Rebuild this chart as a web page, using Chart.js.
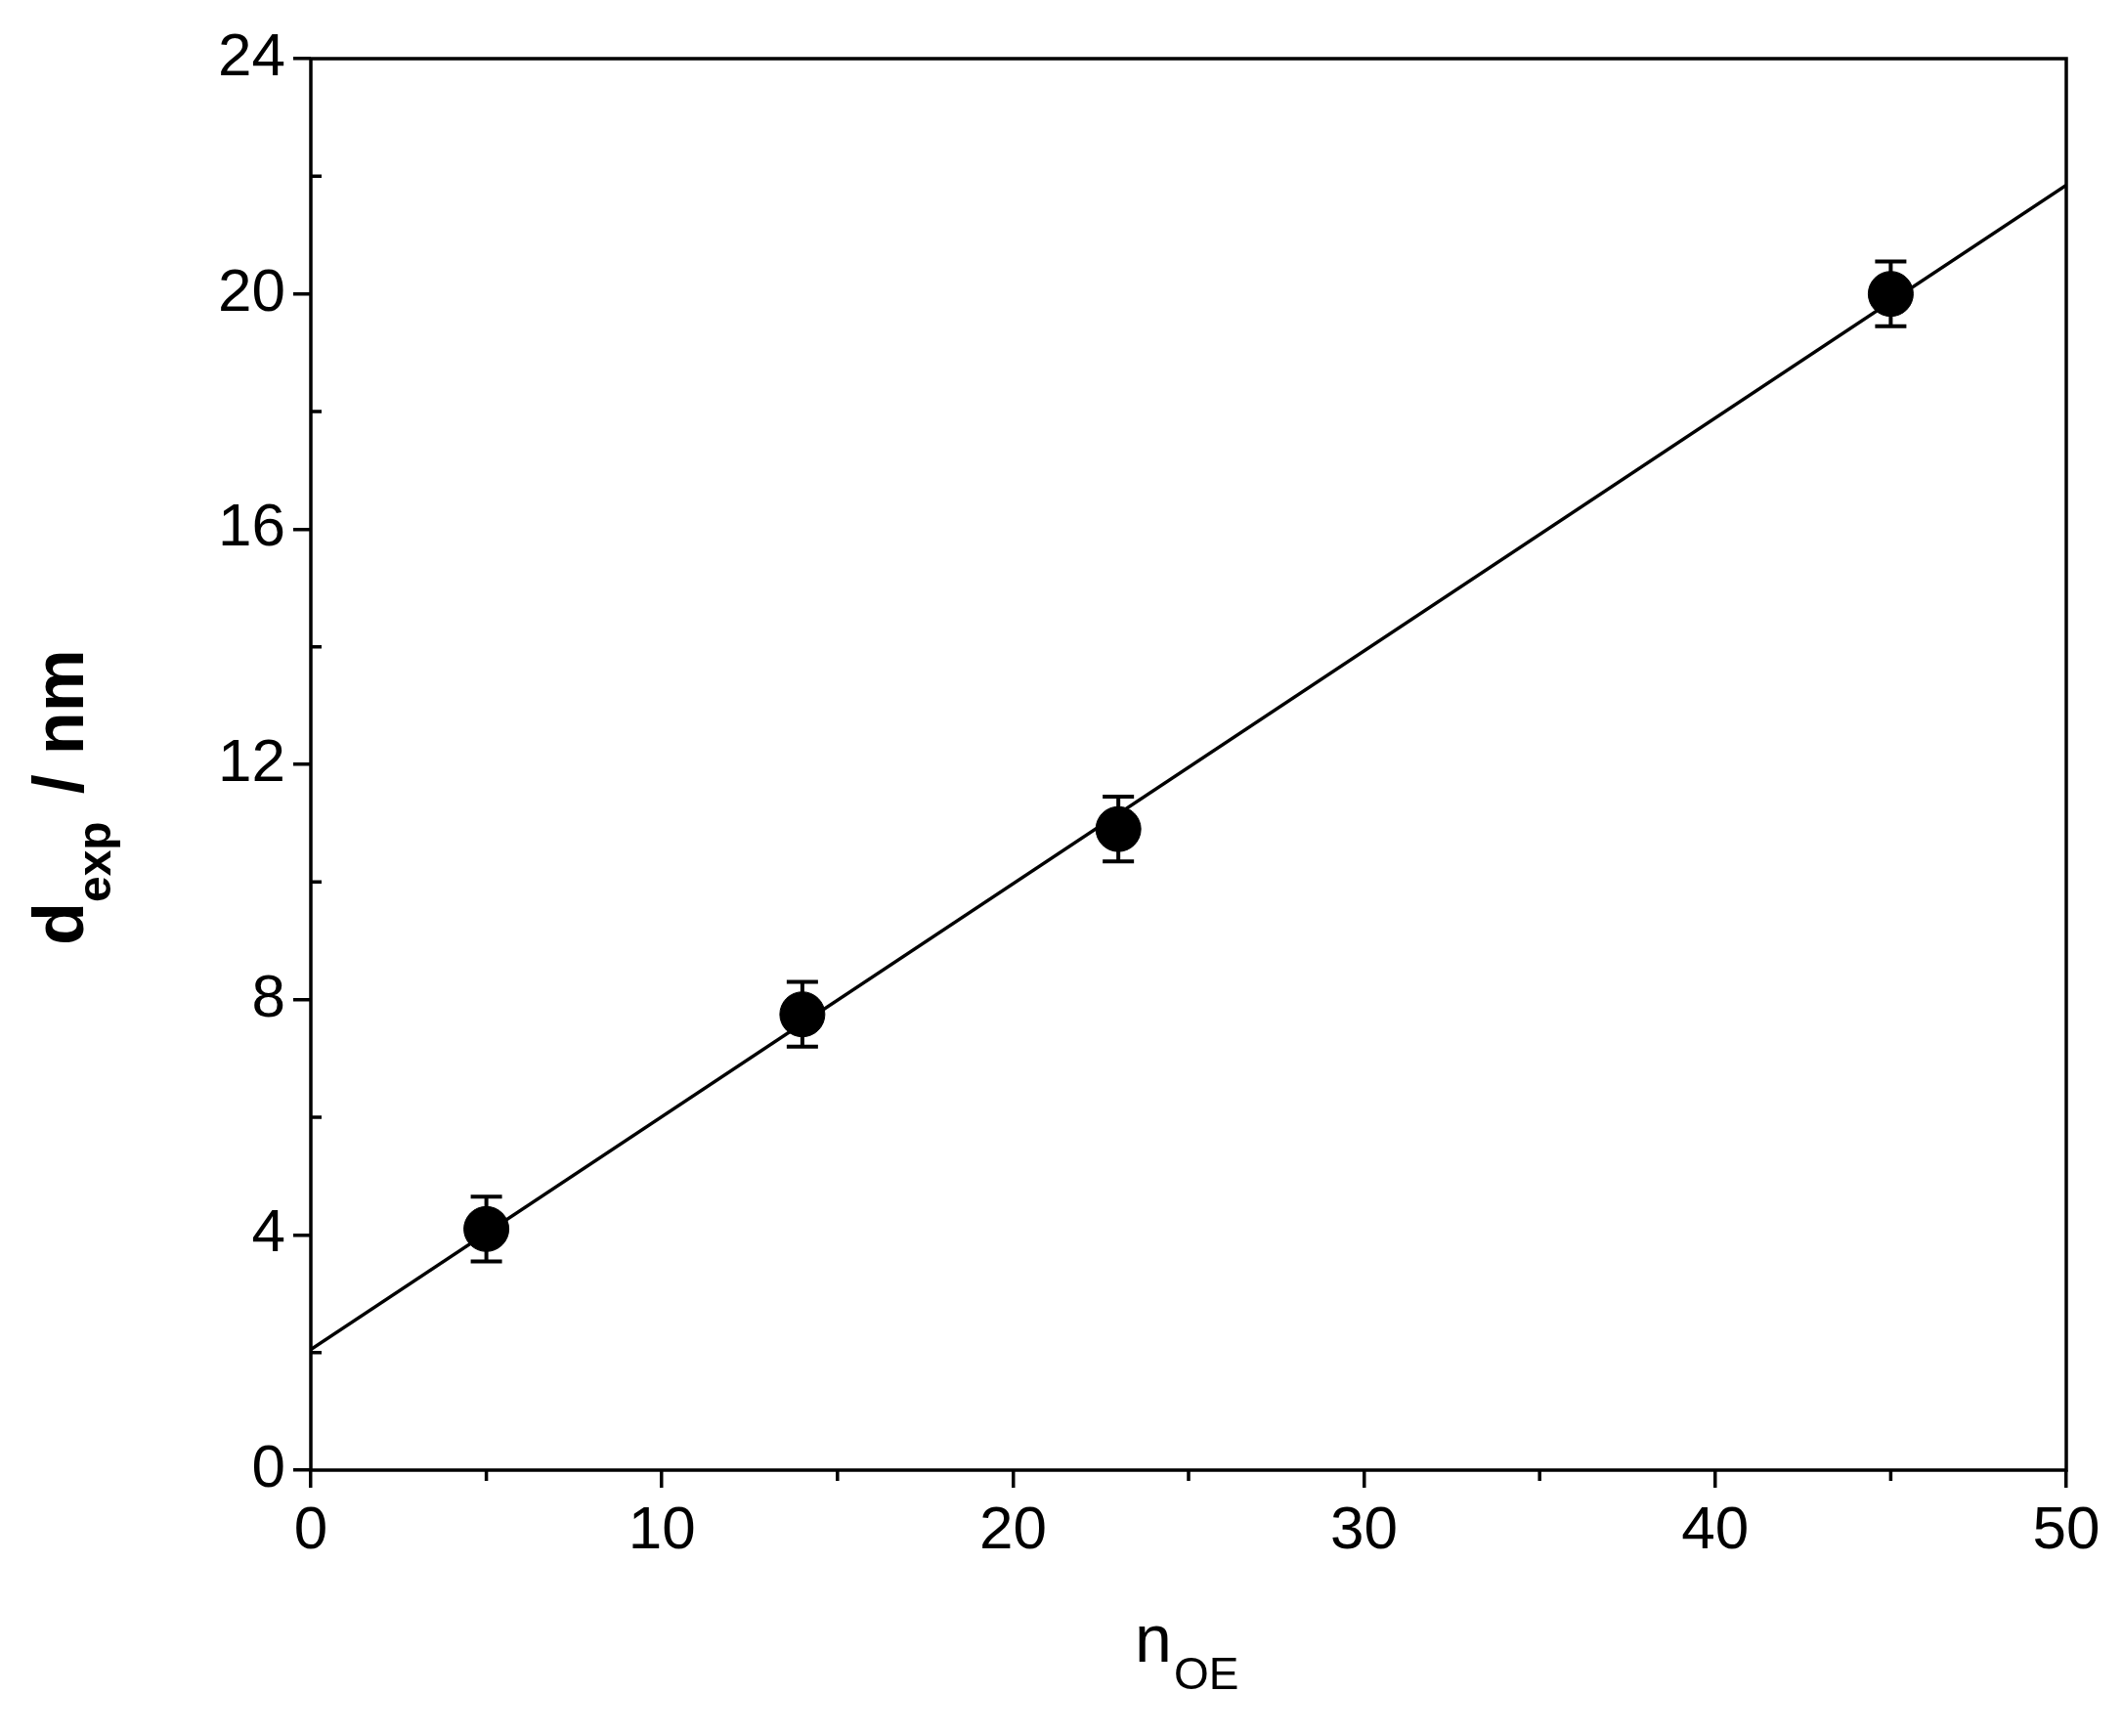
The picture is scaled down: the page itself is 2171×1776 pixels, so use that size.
<!DOCTYPE html>
<html><head><meta charset="utf-8">
<script src="https://cdn.jsdelivr.net/npm/chart.js@4/dist/chart.umd.min.js"></script>
<style>body{margin:0;background:#fff}</style>
</head><body>
<canvas id="c" width="2171" height="1776"></canvas>
<script>
// measured data
const nOE = [5, 14, 23, 45];
const dExp = [4.1, 7.75, 10.9, 20.0];
const dErr = [0.55, 0.55, 0.55, 0.55];
// linear fit endpoints
const fitX = [0, 50];
const fitY = [2.05, 21.85];

const FONT = "'Liberation Sans', Arial, sans-serif";

// error bars, minor ticks, frame and axis titles
const extras = {
    id: "extras",
    afterDatasetsDraw(chart) {
        const ctx = chart.ctx, x = chart.scales.x, y = chart.scales.y, a = chart.chartArea;
        ctx.save();
        ctx.strokeStyle = "#000";
        ctx.lineWidth = 4;
        nOE.forEach((n, i) => {
            const px = x.getPixelForValue(n);
            const top = y.getPixelForValue(dExp[i] + dErr[i]);
            const bot = y.getPixelForValue(dExp[i] - dErr[i]);
            ctx.beginPath();
            ctx.moveTo(px, top); ctx.lineTo(px, bot);
            ctx.moveTo(px - 16, top); ctx.lineTo(px + 16, top);
            ctx.moveTo(px - 16, bot); ctx.lineTo(px + 16, bot);
            ctx.stroke();
        });
        // frame
        ctx.lineWidth = 3.5;
        ctx.strokeRect(a.left, a.top, a.right - a.left, a.bottom - a.top);
        // minor ticks
        ctx.beginPath();
        for (let v = 5; v < 50; v += 10) {
            const px = x.getPixelForValue(v);
            ctx.moveTo(px, a.bottom); ctx.lineTo(px, a.bottom + 11);
        }
        for (let v = 2; v < 24; v += 4) {
            const py = y.getPixelForValue(v);
            ctx.moveTo(a.left, py); ctx.lineTo(a.left + 11, py);
        }
        ctx.stroke();
        // axis titles
        ctx.fillStyle = "#000";
        ctx.textBaseline = "alphabetic";
        ctx.font = "68px " + FONT;
        const tx = (a.left + a.right) / 2 - 55;
        ctx.fillText("n", tx, 1700);
        ctx.font = "46px " + FONT;
        ctx.fillText("OE", tx + 40, 1728);
        ctx.translate(85, (a.top + a.bottom) / 2);
        ctx.rotate(-Math.PI / 2);
        ctx.font = "bold 72px " + FONT;
        ctx.textAlign = "left";
        let s = -185;
        ctx.fillText("d", s, 0);
        s += ctx.measureText("d").width;
        ctx.font = "bold 48px " + FONT;
        ctx.fillText("exp", s, 28);
        s += ctx.measureText("exp").width + 8;
        ctx.font = "bold 72px " + FONT;
        ctx.fillText(" / nm", s, 0);
        ctx.restore();
    }
};

new Chart(document.getElementById("c"), {
    type: "scatter",
    data: {
        datasets: [
            {
                data: nOE.map((n, i) => ({ x: n, y: dExp[i] })),
                backgroundColor: "#000",
                borderColor: "#000",
                pointRadius: 23,
                order: 0
            },
            {
                type: "line",
                data: fitX.map((n, i) => ({ x: n, y: fitY[i] })),
                borderColor: "#000",
                borderWidth: 3.5,
                pointRadius: 0,
                order: 1
            }
        ]
    },
    plugins: [extras],
    options: {
        responsive: false,
        animation: false,
        devicePixelRatio: 1,
        layout: { padding: { top: 60, right: 57, left: 0, bottom: 0 } },
        scales: {
            x: {
                type: "linear", min: 0, max: 50,
                ticks: { stepSize: 10, color: "#000", font: { size: 62, family: FONT }, padding: 8 },
                grid: { drawOnChartArea: false, color: "#000", lineWidth: 3.5, tickLength: 18 },
                border: { display: false },
                afterFit(s) { s.height = 272; }
            },
            y: {
                type: "linear", min: 0, max: 24,
                ticks: { stepSize: 4, color: "#000", font: { size: 62, family: FONT }, padding: 8 },
                grid: { drawOnChartArea: false, color: "#000", lineWidth: 3.5, tickLength: 18 },
                border: { display: false },
                afterFit(s) { s.width = 318; }
            }
        },
        plugins: { legend: { display: false }, tooltip: { enabled: false } }
    }
});
</script>
</body></html>
